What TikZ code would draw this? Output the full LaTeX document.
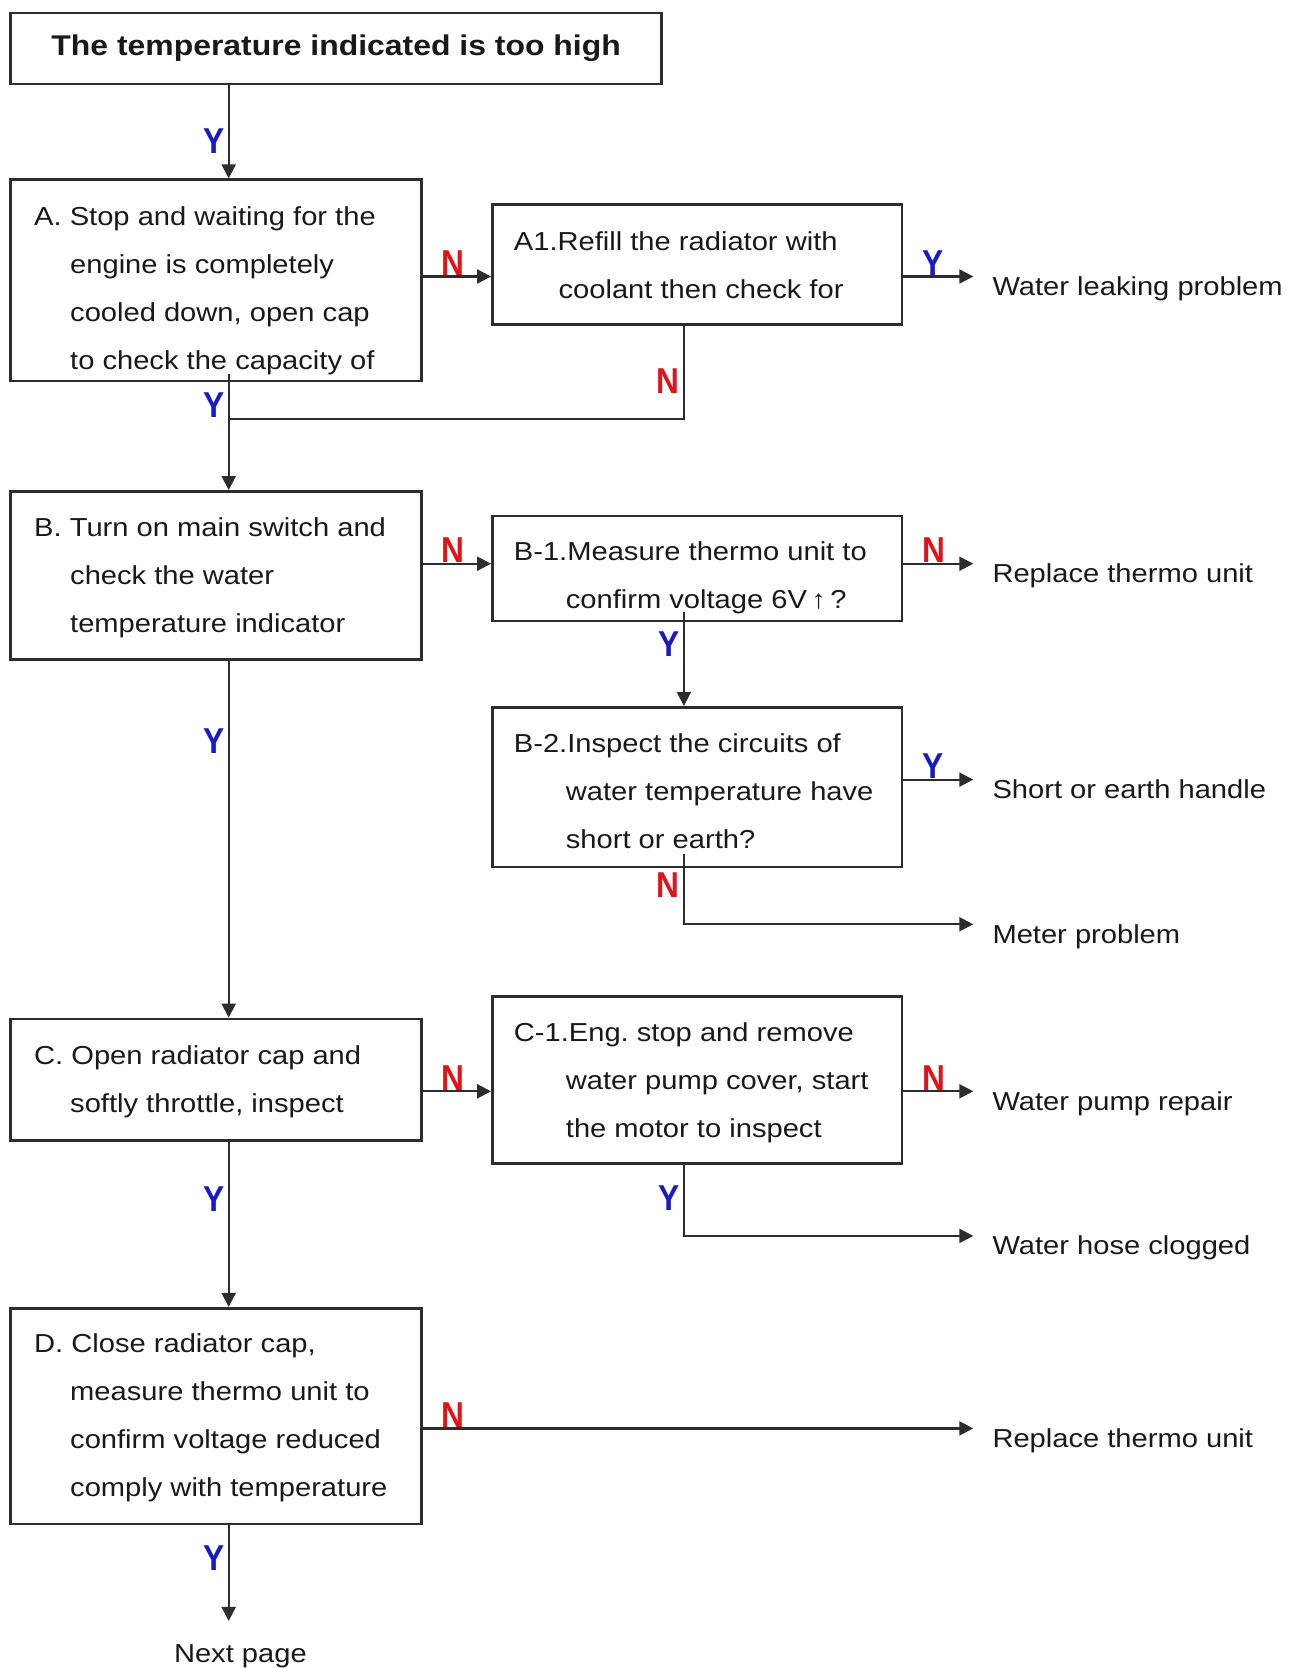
\documentclass[tikz,border=0pt]{standalone}
\usepackage{fontspec}
\setmainfont{Liberation Sans}[FakeStretch=1.12]
\newfontfamily\labfont{Liberation Sans}[FakeStretch=0.88]
\usetikzlibrary{arrows.meta,calc}
\definecolor{ycol}{RGB}{25,25,200}
\definecolor{ncol}{RGB}{225,20,25}
\definecolor{ink}{RGB}{25,25,25}
\definecolor{rule}{RGB}{45,45,45}
\newcommand{\indL}{\hspace*{36pt}}
\newcommand{\indA}{\hspace*{44.7pt}}
\newcommand{\indR}{\hspace*{52pt}}
\tikzset{
  box/.style={draw=rule, line width=2.6pt, inner sep=0pt},
  body/.style={inner sep=0pt, anchor=base west, text=ink, font=\fontsize{26}{48}\selectfont},
  outcome/.style={inner sep=0pt, anchor=base west, text=ink, font=\fontsize{26}{48}\selectfont},
  link/.style={draw=rule, line width=2.2pt},
  arr/.style={link, -{Triangle[length=14pt,width=14pt]}},
  ylab/.style={inner sep=0pt, text=ycol, font=\labfont\bfseries\fontsize{36}{36}\selectfont},
  nlab/.style={inner sep=0pt, text=ncol, font=\labfont\bfseries\fontsize{36}{36}\selectfont},
}
\begin{document}
\begin{tikzpicture}[x=1pt,y=-1pt]
\useasboundingbox[fill=white] (0,0) rectangle (1288,1668);

% reference columns for the connectors
\coordinate (xm) at (228.7,0);
\coordinate (xr) at (683.9,0);

% boxes
\node[box, minimum width=651pt, minimum height=71.2pt,
      font=\bfseries\fontsize{28.5}{34}\selectfont, text=ink] (T) at (336.1,48.4)
      {The temperature indicated is too high};
\node[box, minimum width=410.6pt, minimum height=201.1pt] (A)  at (215.9,280.25) {};
\node[box, minimum width=409.5pt, minimum height=120.2pt] (A1) at (697.15,264.3) {};
\node[box, minimum width=410.6pt, minimum height=168pt]   (B)  at (215.9,575.4) {};
\node[box, minimum width=409.5pt, minimum height=105.3pt] (B1) at (697.15,568.45) {};
\node[box, minimum width=409.5pt, minimum height=159.5pt] (B2) at (697.15,787.05) {};
\node[box, minimum width=410.6pt, minimum height=121.3pt] (C)  at (215.9,1079.55) {};
\node[box, minimum width=409.5pt, minimum height=167pt]   (C1) at (697.15,1080.1) {};
\node[box, minimum width=410.6pt, minimum height=215.9pt] (D)  at (215.9,1416.15) {};

% box texts
\node[body] (At) at (34,225.5) {\begin{tabular}[t]{@{}l@{}}A. Stop and waiting for the\\
  \indL engine is completely\\ \indL cooled down, open cap\\ \indL to check the capacity of\end{tabular}};
\node[body] (A1t) at (513.7,250) {\begin{tabular}[t]{@{}l@{}}A1.Refill the radiator with\\
  \indA coolant then check for\end{tabular}};
\node[body] (Bt) at (34,536) {\begin{tabular}[t]{@{}l@{}}B. Turn on main switch and\\
  \indL check the water\\ \indL temperature indicator\end{tabular}};
\node[body] (B1t) at (513.7,560.5) {\begin{tabular}[t]{@{}l@{}}B-1.Measure thermo unit to\\
  \indR confirm voltage 6V{\,}↑{\,}?\end{tabular}};
\node[body] (B2t) at (513.7,752) {\begin{tabular}[t]{@{}l@{}}B-2.Inspect the circuits of\\
  \indR water temperature have\\ \indR short or earth?\end{tabular}};
\node[body] (Ct) at (34,1064.7) {\begin{tabular}[t]{@{}l@{}}C. Open radiator cap and\\
  \indL softly throttle, inspect\end{tabular}};
\node[body] (C1t) at (513.7,1041.3) {\begin{tabular}[t]{@{}l@{}}C-1.Eng.\ stop and remove\\
  \indR water pump cover, start\\ \indR the motor to inspect\end{tabular}};
\node[body] (Dt) at (34,1352.9) {\begin{tabular}[t]{@{}l@{}}D. Close radiator cap,\\
  \indL measure thermo unit to\\ \indL confirm voltage reduced\\ \indL comply with temperature\end{tabular}};

% outcomes
\node[outcome] (wlp)  at (992.3,295.5)  {Water leaking problem};
\node[outcome] (rtu1) at (992.3,582.7)  {Replace thermo unit};
\node[outcome] (seh)  at (992.3,798.6)  {Short or earth handle};
\node[outcome] (mp)   at (992.3,943.3)  {Meter problem};
\node[outcome] (wpr)  at (992.3,1110.3) {Water pump repair};
\node[outcome] (whc)  at (992.3,1254.9) {Water hose clogged};
\node[outcome] (rtu2) at (992.3,1447.4) {Replace thermo unit};
\node[outcome, anchor=base] (np) at (240.4,1662) {Next page};

% main column
\draw[arr] (T.south -| xm) -- (A.north -| xm);
\draw[arr, shorten <=-8pt] (A.south -| xm) -- (B.north -| xm);
\draw[arr] (B.south -| xm) -- (C.north -| xm);
\draw[arr] (C.south -| xm) -- (D.north -| xm);
\draw[arr, shorten >=23pt] (D.south -| xm) -- (np.north -| xm);

% branches to the right
\draw[arr] (A.east |- 0,276.5) -- (A1.west |- 0,276.5);
\draw[arr, shorten >=19pt] (A1.east |- 0,276.5) -- (wlp.west |- 0,276.5);
\draw[link] (A1.south -| xr) |- (xm |- 0,419.1);

\draw[arr] (B.east |- 0,563.7) -- (B1.west |- 0,563.7);
\draw[arr, shorten >=19pt] (B1.east |- 0,563.7) -- (rtu1.west |- 0,563.7);
\draw[arr, shorten <=-10pt] (B1.south -| xr) -- (B2.north -| xr);
\draw[arr, shorten >=19pt] (B2.east |- 0,779.6) -- (seh.west |- 0,779.6);
\draw[arr, shorten <=-14pt, shorten >=19pt] (B2.south -| xr) |- (mp.west |- 0,924.3);

\draw[arr] (C.east |- 0,1091.3) -- (C1.west |- 0,1091.3);
\draw[arr, shorten >=19pt] (C1.east |- 0,1091.3) -- (wpr.west |- 0,1091.3);
\draw[arr, shorten >=19pt] (C1.south -| xr) |- (whc.west |- 0,1235.9);

\draw[arr, shorten >=19pt] (D.east |- 0,1428.4) -- (rtu2.west |- 0,1428.4);

% Y / N labels
\node[ylab, anchor=east] (yTA) at (224.5,141.5)  {Y};
\node[ylab, anchor=east] (yAB) at (224.5,405.2)  {Y};
\node[ylab, anchor=east] (yBC) at (224.5,741.3)  {Y};
\node[ylab, anchor=east] (yCD) at (224.5,1198.7) {Y};
\node[ylab, anchor=east] (yDn) at (224.5,1558.2) {Y};
\node[nlab, anchor=east] (nA1) at (679.5,380.8)  {N};
\node[ylab, anchor=east] (yB1) at (679.5,644.5)  {Y};
\node[nlab, anchor=east] (nB2) at (679.5,884.9)  {N};
\node[ylab, anchor=east] (yC1) at (679.5,1197.6) {Y};

\node[nlab, anchor=south west] (nAA) at (441.2,275.5)  {N};
\node[ylab, anchor=south west] (yAW) at (921.9,275.5)  {Y};
\node[nlab, anchor=south west] (nBB) at (441.2,562.7)  {N};
\node[nlab, anchor=south west] (nBR) at (921.9,562.7)  {N};
\node[ylab, anchor=south west] (yBS) at (921.9,778.6)  {Y};
\node[nlab, anchor=south west] (nCC) at (441.2,1090.3) {N};
\node[nlab, anchor=south west] (nCW) at (921.9,1090.3) {N};
\node[nlab, anchor=south west] (nDR) at (441.2,1427.4) {N};
\end{tikzpicture}
\end{document}
